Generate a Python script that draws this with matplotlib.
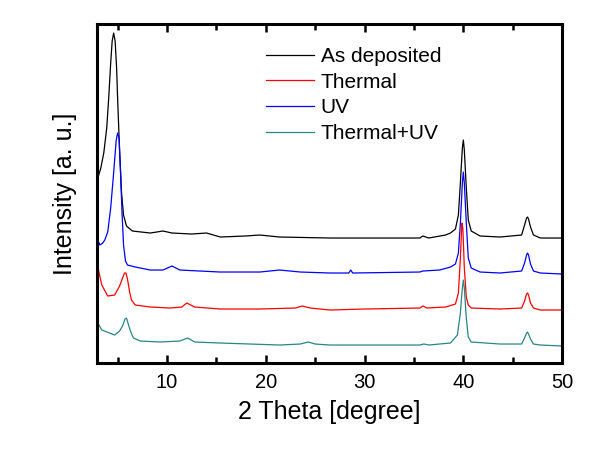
import numpy as np
import matplotlib.pyplot as plt

plt.rcParams['font.family'] = ['Liberation Sans', 'DejaVu Sans']

# 2 Theta [degree] / intensity [a.u.] (curves already offset)
as_dep_x = [3.0, 3.3, 3.6, 3.9, 4.1, 4.3, 4.45, 4.6, 4.75, 4.9, 5.0, 5.2, 5.4, 5.6, 5.9, 6.5,
            8.3, 9.6, 10.5, 12.5, 14.0, 15.4, 17.9, 19.4, 21.4, 26.5, 30.0, 35.6, 35.9,
            36.5, 38.2, 38.7, 39.2, 39.5, 39.7, 39.9, 40.0, 40.1, 40.3, 40.5, 40.8, 41.7,
            43.7, 45.9, 46.2, 46.4, 46.5, 46.6, 46.8, 47.1, 47.8, 50.0]
as_dep_y = [185, 195, 210, 235, 265, 300, 322, 330, 322, 295, 265, 213, 170, 148, 137, 132,
            130, 132, 130, 129, 130, 126, 127, 128, 126, 125, 125, 125, 127,
            125, 128, 130, 134, 148, 180, 215, 223, 213, 175, 143, 132, 127,
            126, 128, 138, 145, 146, 144, 136, 128, 125, 125]

thermal_x = [3.0, 3.4, 4.0, 4.7, 5.2, 5.5, 5.7, 5.85, 6.0, 6.2, 6.4, 6.8, 8.3, 10.3, 11.5,
             12.0, 12.8, 15.4, 19.4, 23.0, 23.7, 24.5, 26.5, 30.0, 35.6, 35.9, 36.3, 38.2,
             39.2, 39.5, 39.7, 39.85, 39.95, 40.1, 40.3, 40.5, 40.8, 43.7, 45.9, 46.2, 46.4,
             46.5, 46.6, 46.8, 47.1, 47.8, 50.0]
thermal_y = [96, 78, 67, 68, 77, 85, 90, 90, 84, 72, 63, 58, 56, 55, 56,
             60, 56, 54, 54, 55, 57, 55, 53, 54, 55, 57, 55, 56,
             59, 70, 105, 140, 135, 95, 66, 58, 55, 54, 55, 62, 69, 70, 68, 60, 55, 53, 53]

uv_x = [3.0, 3.2, 3.5, 3.7, 4.0, 4.3, 4.6, 4.85, 5.0, 5.15, 5.3, 5.45, 5.6, 5.8, 6.0, 6.8,
        8.3, 9.6, 10.5, 11.3, 13.3, 15.4, 17.9, 19.4, 21.4, 23.5, 26.5, 28.4, 28.6, 28.8,
        35.6, 35.9, 37.6, 38.7, 39.2, 39.5, 39.7, 39.9, 40.0, 40.1, 40.3, 40.5, 40.8,
        41.7, 43.7, 45.9, 46.2, 46.4, 46.5, 46.6, 46.8, 47.1, 47.8, 50.0]
uv_y = [123, 118, 120, 123, 131, 155, 190, 222, 230, 225, 190, 150, 118, 102, 98, 96,
        93, 93, 97, 93, 92, 91, 91, 91, 93, 91, 90, 90, 93, 90,
        91, 92, 93, 96, 99, 110, 140, 180, 191, 180, 140, 105, 95,
        91, 90, 92, 100, 108, 110, 108, 99, 92, 90, 89]

thuv_x = [3.0, 3.4, 4.2, 4.7, 5.2, 5.5, 5.75, 5.9, 6.05, 6.3, 6.6, 7.3, 9.3, 11.3, 12.1,
          12.8, 15.4, 18.4, 21.4, 23.5, 24.3, 25.0, 26.5, 30.0, 35.6, 36.0, 36.5, 38.7,
          39.4, 39.7, 39.9, 40.0, 40.1, 40.3, 40.5, 40.8, 43.7, 45.9, 46.2, 46.4, 46.5,
          46.6, 46.8, 47.1, 47.8, 50.0]
thuv_y = [40, 33, 30, 28, 32, 37, 44, 45, 40, 32, 25, 22, 21, 22, 25,
          21, 20, 19, 18, 19, 21, 19, 18, 18, 18, 19, 18, 20,
          28, 50, 75, 83, 75, 45, 26, 21, 19, 19, 25, 30, 31, 29, 24, 19, 18, 17]

fig = plt.figure(figsize=(6.13, 4.49), dpi=100)
ax = fig.add_axes([0.158, 0.1915, 0.759, 0.755])

ax.plot(as_dep_x, as_dep_y, color='black', lw=0.9, label='As deposited')
ax.plot(thermal_x, thermal_y, color='#ff0000', lw=0.9, label='Thermal')
ax.plot(uv_x, uv_y, color='#0000ff', lw=0.9, label='UV')
ax.plot(thuv_x, thuv_y, color='#2a8585', lw=0.9, label='Thermal+UV')

ax.set_xlim(2.9, 50)
ax.set_ylim(0, 339)
ax.set_xticks([10, 20, 30, 40, 50])
ax.set_xticks([5, 15, 25, 35, 45], minor=True)
ax.set_yticks([])
ax.tick_params(axis='x', which='both', direction='in', top=True, labelsize=14.5, width=1.8)
ax.tick_params(axis='x', which='major', length=6, pad=7)
ax.tick_params(axis='x', which='minor', length=4)
for s in ax.spines.values():
    s.set_linewidth(2.2)

ax.set_xlabel('2 Theta [degree]', fontsize=18, labelpad=6)
ax.set_ylabel('Intensity [a. u.]', fontsize=18, labelpad=14)

ax.legend(loc='upper left', bbox_to_anchor=(0.333, 0.975), frameon=False, fontsize=15,
          handlelength=2.3, handletextpad=0.3, labelspacing=0.32, borderpad=0.2)

fig.savefig('out.png', dpi=100)
